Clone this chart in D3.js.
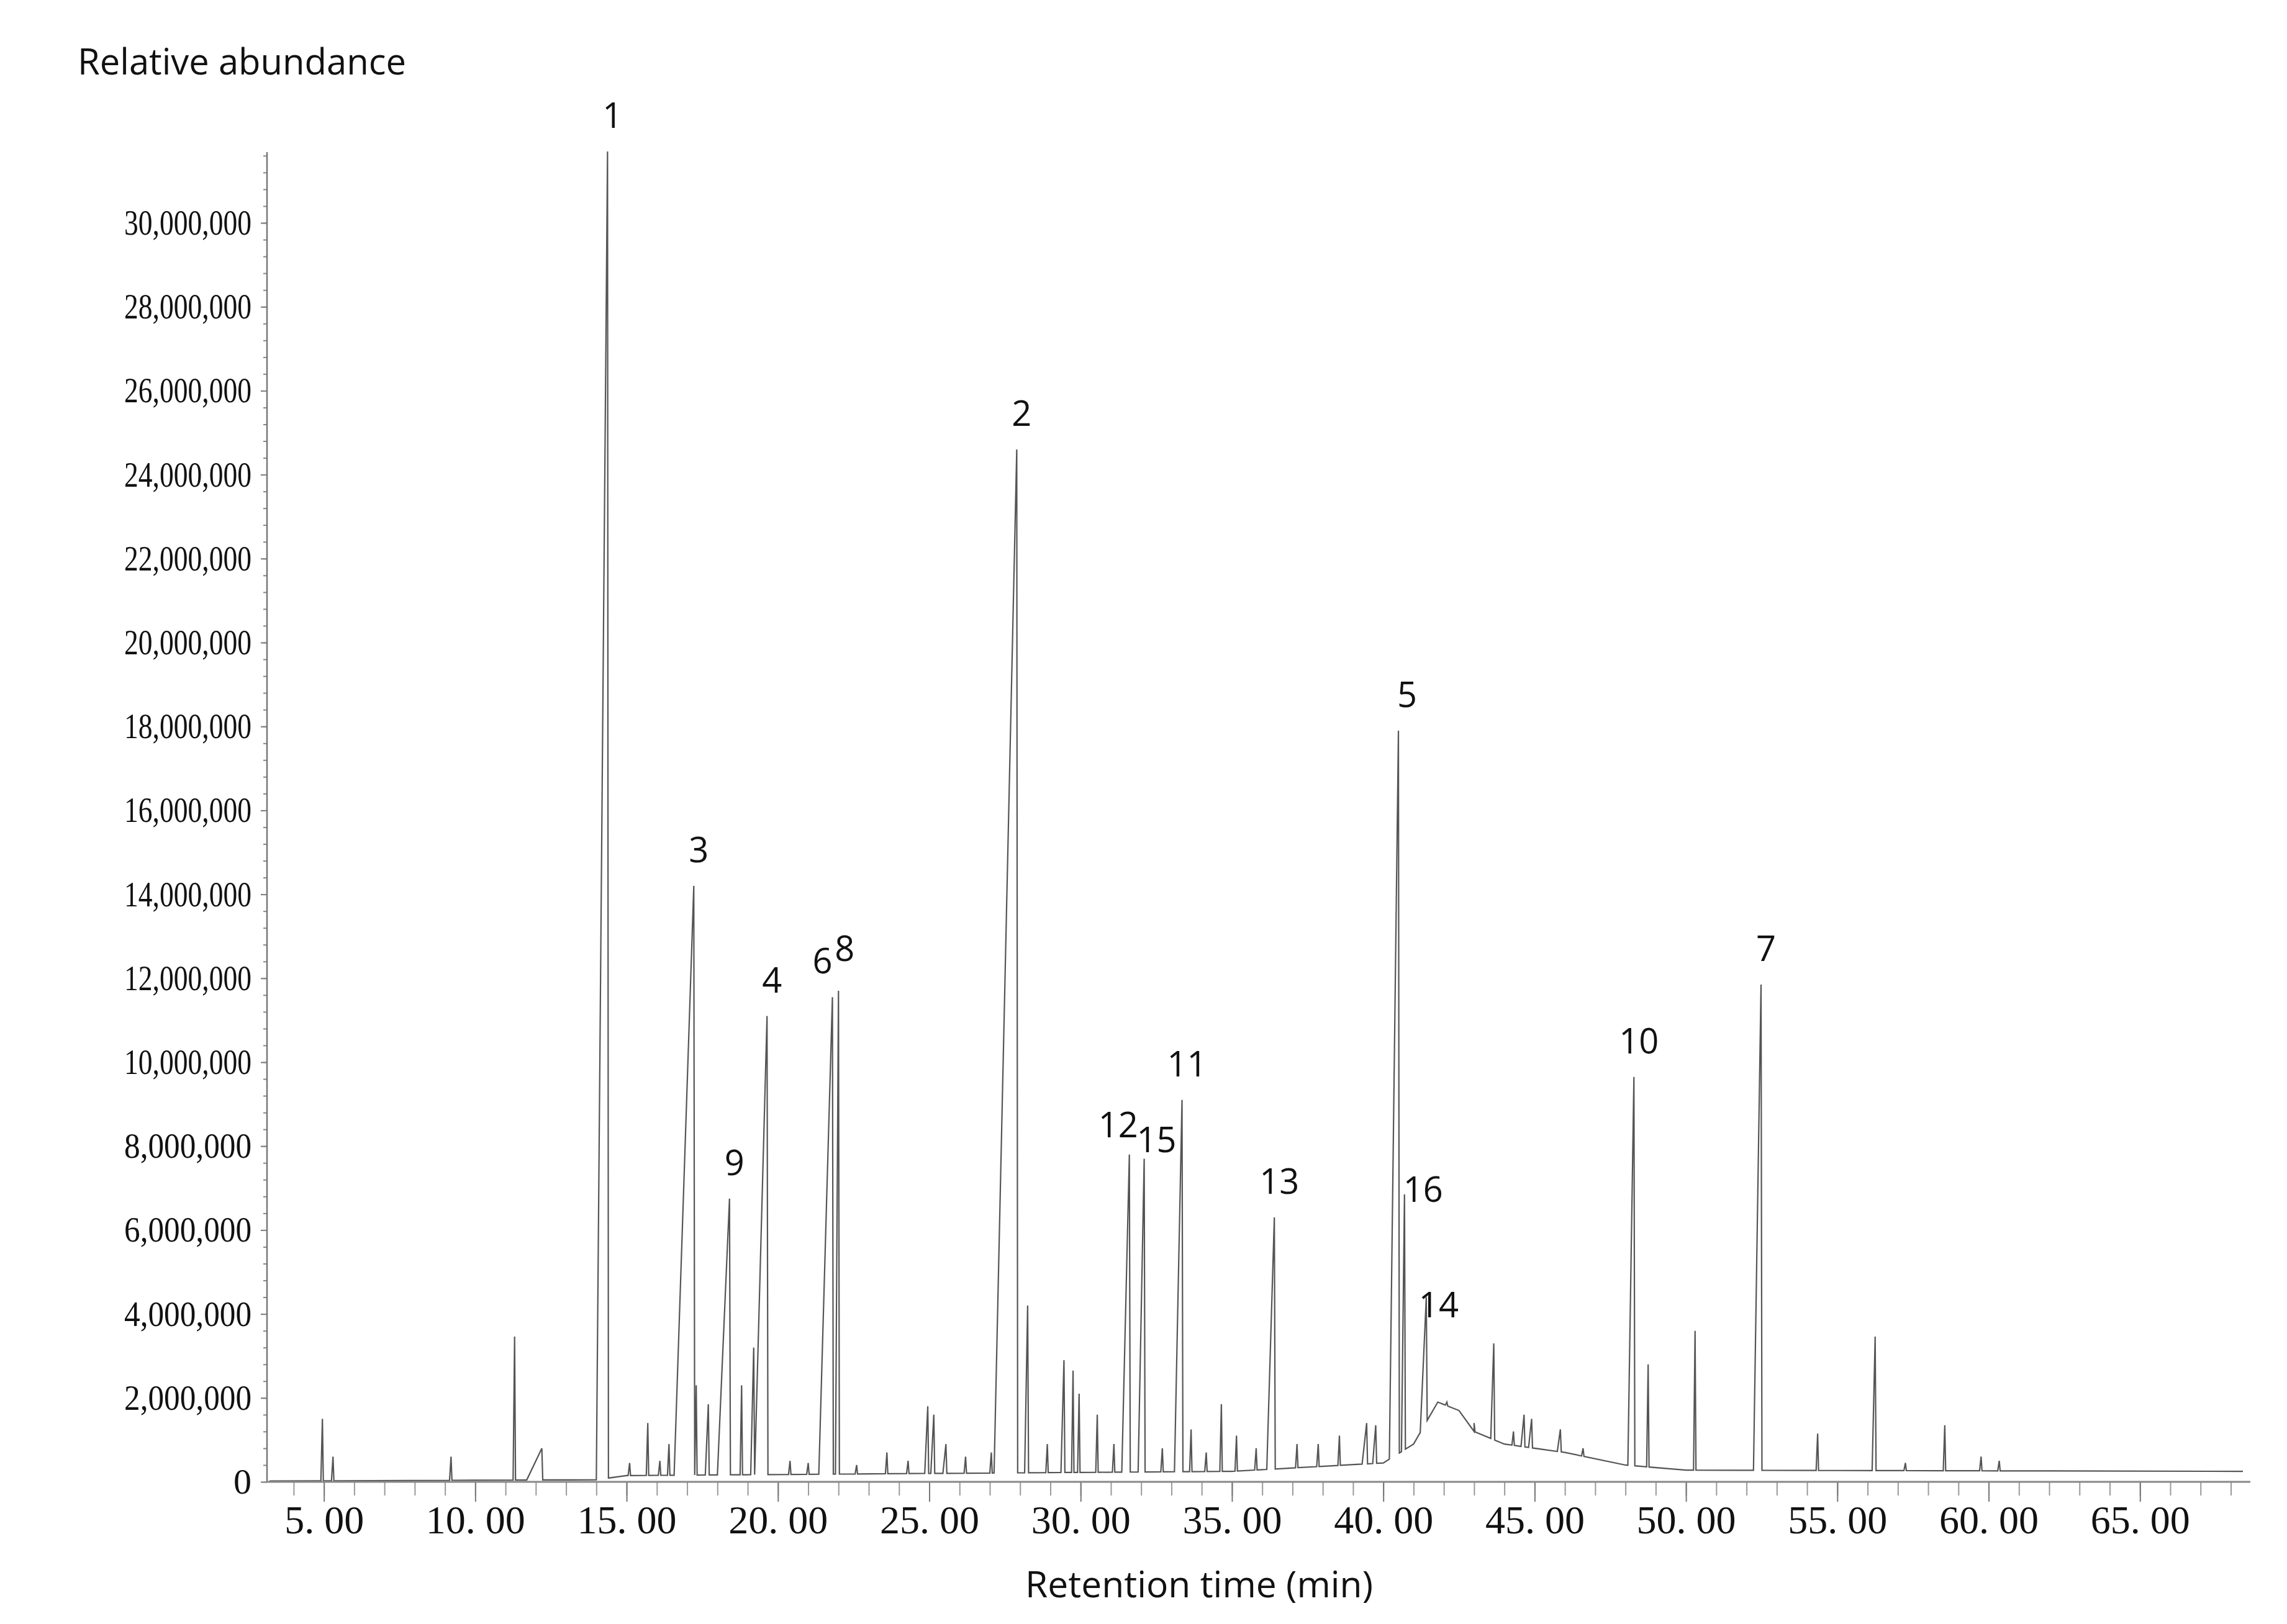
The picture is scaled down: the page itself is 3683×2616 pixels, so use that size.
<!DOCTYPE html>
<html>
<head>
<meta charset="utf-8">
<script src="https://cdn.jsdelivr.net/npm/d3@7"></script>
<style>
  body { margin: 0; background: #fff; }
  svg { display: block; }
</style>
</head>
<body>
<svg id="chart" width="3683" height="2616"></svg>
<script>
// Peaks: retention time (min), height (abundance), rise width (min)
const peakTimes   = [4.95, 5.3, 9.2, 11.3, 12.2, 14.37, 15.1, 15.7, 16.1, 16.4, 17.22, 17.3, 17.7, 18.4, 18.8, 19.2, 19.64, 20.4, 21.0, 21.8, 22.0, 22.6, 23.6, 24.3,
                     24.95, 25.15, 25.55, 26.2, 27.05, 27.89, 28.25, 28.9, 29.45, 29.75, 29.95, 30.55, 31.1, 31.61, 32.1, 32.7, 33.35, 33.65, 34.15, 34.65, 35.15,
                     35.8, 36.4, 37.15, 37.85, 38.55, 39.45, 39.75, 40.5, 40.7, 41.42, 42.1, 43.0, 43.65, 44.3, 44.65, 44.9, 45.85, 46.6, 48.28, 48.75,
                     50.3, 52.48, 54.35, 56.25, 57.25, 58.55, 59.75, 60.35];
const peakHeights = [1.5e6, 0.6e6, 0.6e6, 3.46e6, 0.8e6, 31.7e6, 0.45e6, 1.4e6, 0.5e6, 0.9e6, 14.2e6, 2.3e6, 1.85e6, 6.75e6, 2.3e6, 3.2e6, 11.1e6, 0.5e6, 0.45e6, 11.55e6, 11.7e6, 0.4e6, 0.7e6, 0.5e6,
                     1.8e6, 1.6e6, 0.9e6, 0.6e6, 0.7e6, 24.6e6, 4.2e6, 0.9e6, 2.9e6, 2.65e6, 2.1e6, 1.6e6, 0.9e6, 7.8e6, 7.7e6, 0.8e6, 9.1e6, 1.25e6, 0.7e6, 1.85e6, 1.1e6,
                     0.8e6, 6.3e6, 0.9e6, 0.9e6, 1.1e6, 1.4e6, 1.35e6, 17.9e6, 6.85e6, 4.4e6, 1.9e6, 1.4e6, 3.3e6, 1.2e6, 1.6e6, 1.5e6, 1.25e6, 0.8e6, 9.65e6, 2.8e6,
                     3.6e6, 11.85e6, 1.15e6, 3.46e6, 0.45e6, 1.35e6, 0.6e6, 0.5e6];
const peakRise    = [0.05, 0.05, 0.05, 0.05, 0.5, 1.25, 0.05, 0.05, 0.05, 0.05, 0.65, 0.05, 0.1, 0.4, 0.05, 0.1, 0.7, 0.05, 0.05, 0.45, 0.1, 0.05, 0.05, 0.05,
                     0.1, 0.1, 0.1, 0.05, 0.05, 0.75, 0.1, 0.05, 0.1, 0.05, 0.05, 0.05, 0.05, 0.25, 0.2, 0.05, 0.25, 0.05, 0.05, 0.05, 0.05,
                     0.05, 0.25, 0.05, 0.05, 0.05, 0.15, 0.1, 0.3, 0.1, 0.2, 0.05, 0.05, 0.1, 0.05, 0.1, 0.1, 0.1, 0.05, 0.2, 0.05,
                     0.05, 0.25, 0.05, 0.1, 0.05, 0.05, 0.05, 0.05];

// Baseline (drift / hump) as time, abundance
const baseTimes  = [3.2, 14.0, 15.0, 25.0, 35.0, 40.0, 41.0, 41.8, 42.5, 43.0, 44.0, 46.0, 48.0, 50.0, 55.0, 68.4];
const baseValues = [0.02e6, 0.05e6, 0.15e6, 0.2e6, 0.25e6, 0.45e6, 0.9e6, 1.9e6, 1.7e6, 1.2e6, 0.9e6, 0.7e6, 0.4e6, 0.28e6, 0.27e6, 0.25e6];

// Peak number labels: label, peak time
const labelNames = ["1", "3", "9", "4", "6", "8", "2", "12", "15", "11", "13", "5", "16", "14", "10", "7"];
const labelTimes = [14.37, 17.22, 18.4, 19.64, 21.8, 22.0, 27.89, 31.61, 32.1, 33.35, 36.4, 40.5, 40.7, 41.42, 48.28, 52.48];

const yTicks = d3.range(0, 30000001, 2000000);

const svg = d3.select('#chart');
const x = d3.scaleLinear().domain([3.12, 68.4]).range([430, 3612]);
const y = d3.scaleLinear().domain([0, 30000000]).range([2387, 359]);

const base = d3.scaleLinear().domain(baseTimes).range(baseValues).clamp(true);

// Build trace points from peaks and baseline
let pts = baseTimes.map((t, i) => [t, baseValues[i]]);
peakTimes.forEach((t, i) => {
    const l = t - peakRise[i], r = t + 0.03;
    pts.push([l, base(l)], [t, peakHeights[i]], [r, base(r)]);
});
pts.sort((a, b) => a[0] - b[0]);

const line = d3.line().x(d => x(d[0])).y(d => y(d[1]));

svg.append('path')
    .datum(pts)
    .attr('d', line)
    .attr('fill', 'none')
    .attr('stroke', '#555')
    .attr('stroke-width', 2.2);

// Y axis
const yAxis = svg.append('g')
    .attr('transform', 'translate(430,0)')
    .call(d3.axisLeft(y).tickValues(yTicks).tickSize(10).tickFormat(d3.format(',')));
yAxis.select('.domain').remove();
yAxis.selectAll('text')
    .attr('font-family', 'Liberation Serif, serif')
    .attr('font-size', 58)
    .attr('x', -25)
    .attr('textLength', d => d === 0 ? null : 205)
    .attr('lengthAdjust', 'spacingAndGlyphs')
    .attr('fill', '#111');
yAxis.selectAll('line').attr('stroke', '#777').attr('stroke-width', 2);
svg.append('g')
    .attr('transform', 'translate(430,0)')
    .call(d3.axisLeft(y).tickValues(d3.range(0, 31600001, 400000)).tickSize(6).tickFormat(''))
    .call(g => g.select('.domain').remove())
    .selectAll('line').attr('stroke', '#888').attr('stroke-width', 2);
svg.append('line')
    .attr('x1', 430).attr('x2', 430).attr('y1', 245).attr('y2', 2387)
    .attr('stroke', '#777').attr('stroke-width', 2.5);

// X axis
const xg = svg.append('g').attr('transform', 'translate(0,2387)');
xg.call(d3.axisBottom(x).tickValues(d3.range(4, 69, 1)).tickSize(22).tickFormat(''))
    .call(g => g.select('.domain').remove())
    .selectAll('line').attr('stroke', '#999').attr('stroke-width', 2);
const xMajor = svg.append('g').attr('transform', 'translate(0,2387)')
    .call(d3.axisBottom(x).tickValues(d3.range(5, 66, 5)).tickSize(32)
        .tickFormat(d => d3.format('.2f')(d).replace('.', '. ')));
xMajor.select('.domain').remove();
xMajor.selectAll('line').attr('stroke', '#777').attr('stroke-width', 2);
xMajor.selectAll('text')
    .attr('font-family', 'Liberation Serif, serif')
    .attr('font-size', 64)
    .attr('y', 38)
    .attr('fill', '#111')
    .style('white-space', 'pre');
svg.append('line')
    .attr('x1', 430).attr('x2', 3624).attr('y1', 2387).attr('y2', 2387)
    .attr('stroke', '#888').attr('stroke-width', 3);

// Peak number labels
const labelNudge = {'6': [-16, 0], '8': [10, -10], '12': [-18, 10], '15': [20, 28], '16': [30, 50], '14': [20, 70], '5': [14, 0]};
svg.append('g').selectAll('text')
    .data(labelNames)
    .join('text')
    .attr('x', (d, i) => x(labelTimes[i]) + (labelNudge[d] ? labelNudge[d][0] : 8))
    .attr('y', (d, i) => y(peakHeights[peakTimes.indexOf(labelTimes[i])]) - 38 + (labelNudge[d] ? labelNudge[d][1] : 0))
    .attr('text-anchor', 'middle')
    .attr('font-family', 'Open Sans, sans-serif')
    .attr('font-size', 56)
    .attr('fill', '#111')
    .text(d => d);

// Axis titles
svg.append('text')
    .attr('x', 125).attr('y', 120)
    .attr('font-family', 'Open Sans, sans-serif')
    .attr('font-size', 58)
    .attr('textLength', 529)
    .attr('lengthAdjust', 'spacingAndGlyphs')
    .attr('fill', '#111')
    .text('Relative abundance');
svg.append('text')
    .attr('x', 1931).attr('y', 2573)
    .attr('text-anchor', 'middle')
    .attr('font-family', 'Open Sans, sans-serif')
    .attr('font-size', 58)
    .attr('textLength', 560)
    .attr('lengthAdjust', 'spacingAndGlyphs')
    .attr('fill', '#111')
    .text('Retention time (min)');
</script>
</body>
</html>
